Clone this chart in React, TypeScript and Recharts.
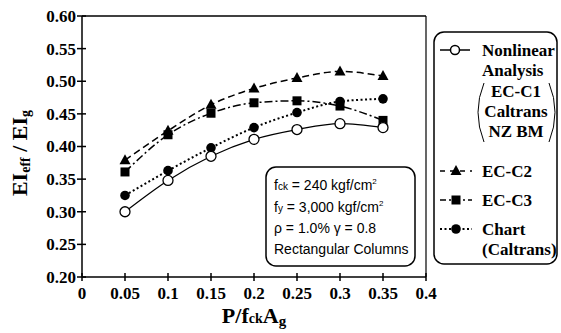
import React from "react";
import { LineChart, Line, XAxis, YAxis, ReferenceLine } from "recharts";

const xValues = [0.05, 0.1, 0.15, 0.2, 0.25, 0.3, 0.35];
const nonlinear = [0.3, 0.348, 0.385, 0.411, 0.426, 0.435, 0.429];
const ecC2 = [0.379, 0.424, 0.464, 0.489, 0.505, 0.515, 0.508];
const ecC3 = [0.361, 0.418, 0.451, 0.467, 0.47, 0.462, 0.44];
const chartCaltrans = [0.325, 0.363, 0.398, 0.429, 0.452, 0.469, 0.473];

const xTicks = [0, 0.05, 0.1, 0.15, 0.2, 0.25, 0.3, 0.35, 0.4];
const xTickLabels = ["0", "0.05", "0.1", "0.15", "0.2", "0.25", "0.3", "0.35", "0.4"];
const yTicks = [0.2, 0.25, 0.3, 0.35, 0.4, 0.45, 0.5, 0.55, 0.6];
const yTickLabels = ["0.20", "0.25", "0.30", "0.35", "0.40", "0.45", "0.50", "0.55", "0.60"];

const data = xValues.map((x, i) => ({
  x,
  nonlinear: nonlinear[i],
  ecC2: ecC2[i],
  ecC3: ecC3[i],
  chart: chartCaltrans[i],
}));

const SERIF = "Liberation Serif";
const SANS = "Liberation Sans";

const renderYTick = (props: any) => {
  const { x, y, index } = props;
  const ax = x + 6;
  return (
    <g key={`yt-${index}`}>
      <line x1={ax - 5} x2={ax + 4} y1={y} y2={y} stroke="#000" strokeWidth={1.5} />
      <text x={x} y={y} dy="0.35em" textAnchor="end" fontFamily={SERIF} fontWeight="bold" fontSize={17} fill="#000">
        {yTickLabels[index]}
      </text>
    </g>
  );
};

const renderXTick = (props: any) => {
  const { x, y, index } = props;
  const ay = y - 10;
  return (
    <g key={`xt-${index}`}>
      <line x1={x} x2={x} y1={ay - 4} y2={ay + 4} stroke="#000" strokeWidth={1.5} />
      <text x={x} y={y} dy="0.71em" textAnchor="middle" fontFamily={SERIF} fontWeight="bold" fontSize={17} fill="#000">
        {xTickLabels[index]}
      </text>
    </g>
  );
};

const OpenCircle = (props: any) => {
  const { cx, cy, index } = props;
  return <circle key={index} cx={cx} cy={cy} r={5} fill="#fff" stroke="#000" strokeWidth={1.3} />;
};
const FilledCircle = (props: any) => {
  const { cx, cy, index } = props;
  return <circle key={index} cx={cx} cy={cy} r={4.8} fill="#000" stroke="none" />;
};
const Triangle = (props: any) => {
  const { cx, cy, index } = props;
  return <path key={index} d={`M${cx},${cy - 6} L${cx + 5.5},${cy + 4} L${cx - 5.5},${cy + 4} Z`} fill="#000" />;
};
const Square = (props: any) => {
  const { cx, cy, index } = props;
  return <rect key={index} x={cx - 4.5} y={cy - 4.5} width={9} height={9} fill="#000" />;
};

export default function App() {
  return (
    <div style={{ position: "absolute", left: 0, top: 0, width: 561, height: 333, background: "#fff" }}>
      <LineChart width={561} height={333} data={data} margin={{ top: 16, right: 135, bottom: 26, left: 22 }}>
        <XAxis
          dataKey="x"
          type="number"
          domain={[0, 0.4]}
          ticks={xTicks}
          tick={renderXTick}
          tickLine={false}
          tickSize={4}
          tickMargin={6}
          height={30}
          stroke="#000"
          strokeWidth={1.5}
          interval={0}
        />
        <YAxis
          type="number"
          domain={[0.2, 0.6]}
          ticks={yTicks}
          tick={renderYTick}
          tickLine={false}
          tickSize={4}
          tickMargin={2}
          width={60}
          stroke="#000"
          strokeWidth={1.5}
          interval={0}
        />
        <ReferenceLine y={0.6} stroke="#000" strokeWidth={1.5} />
        <ReferenceLine x={0.4} stroke="#000" strokeWidth={1.2} />
        <Line type="monotone" dataKey="ecC2" stroke="#000" strokeWidth={1.5} strokeDasharray="7 4" dot={<Triangle />} isAnimationActive={false} />
        <Line type="monotone" dataKey="ecC3" stroke="#000" strokeWidth={1.5} strokeDasharray="8 3 2 3" dot={<Square />} isAnimationActive={false} />
        <Line type="monotone" dataKey="chart" stroke="#000" strokeWidth={2} strokeDasharray="2 2.5" dot={<FilledCircle />} isAnimationActive={false} />
        <Line type="monotone" dataKey="nonlinear" stroke="#000" strokeWidth={1.3} dot={<OpenCircle />} isAnimationActive={false} />
      </LineChart>
      <svg width={561} height={333} style={{ position: "absolute", left: 0, top: 0, pointerEvents: "none" }}>
        <text
          transform="translate(27,153) rotate(-90)"
          textAnchor="middle"
          fontFamily={SERIF}
          fontWeight="bold"
          fontSize={22}
          fill="#000"
        >
          EI<tspan fontSize={14} dy={3}>eff</tspan>
          <tspan dy={-3}> / EI</tspan>
          <tspan fontSize={14} dy={3}>g</tspan>
        </text>
        <text x={254} y={323} textAnchor="middle" fontFamily={SERIF} fontWeight="bold" fontSize={22} fill="#000">
          P/f<tspan fontSize={14}>ck</tspan>A<tspan fontSize={15} dy={3}>g</tspan>
        </text>

        <rect x={266} y={167} width={149} height={99} rx={10} ry={10} fill="#fff" stroke="#000" strokeWidth={1.5} />
        <g fontFamily={SANS} fontSize={14} fill="#000">
          <text x={274} y={190}>
            f<tspan fontSize={10}>ck</tspan> = 240 kgf/cm<tspan fontSize={8} dy={-6}>2</tspan>
          </text>
          <text x={274} y={212}>
            f<tspan fontSize={10}>y</tspan> = 3,000 kgf/cm<tspan fontSize={8} dy={-6}>2</tspan>
          </text>
          <text x={274} y={233}>ρ = 1.0%  γ = 0.8</text>
          <text x={274} y={254}>Rectangular Columns</text>
        </g>

        <rect x={434} y={32} width={123} height={232} rx={10} ry={10} fill="#fff" stroke="#000" strokeWidth={1.5} />
        <g fontFamily={SERIF} fontWeight="bold" fontSize={17} fill="#000">
          <line x1={440} x2={470} y1={50} y2={50} stroke="#000" strokeWidth={1.5} />
          <circle cx={455} cy={50} r={4.5} fill="#fff" stroke="#000" strokeWidth={1.5} />
          <text x={482} y={56}>Nonlinear</text>
          <text x={482} y={76}>Analysis</text>
          <text x={516} y={97} textAnchor="middle">EC-C1</text>
          <text x={516} y={117} textAnchor="middle">Caltrans</text>
          <text x={516} y={137} textAnchor="middle">NZ BM</text>
          <path d="M484,83 Q472,112 484,142" fill="none" stroke="#000" strokeWidth={1} />
          <path d="M549,83 Q561,112 549,142" fill="none" stroke="#000" strokeWidth={1} />

          <line x1={440} x2={472} y1={171} y2={171} stroke="#000" strokeWidth={1.5} strokeDasharray="5 5" />
          <path d="M456,165 L461.5,175 L450.5,175 Z" fill="#000" />
          <text x={482} y={177}>EC-C2</text>

          <line x1={440} x2={472} y1={200} y2={200} stroke="#000" strokeWidth={1.5} strokeDasharray="6 3 2 3" />
          <rect x={451.5} y={195.5} width={9} height={9} fill="#000" />
          <text x={482} y={206}>EC-C3</text>

          <line x1={440} x2={472} y1={229} y2={229} stroke="#000" strokeWidth={2} strokeDasharray="2 2.5" />
          <circle cx={456} cy={229} r={4.8} fill="#000" />
          <text x={482} y={235}>Chart</text>
          <text x={482} y={255}>(Caltrans)</text>
        </g>
      </svg>
    </div>
  );
}
